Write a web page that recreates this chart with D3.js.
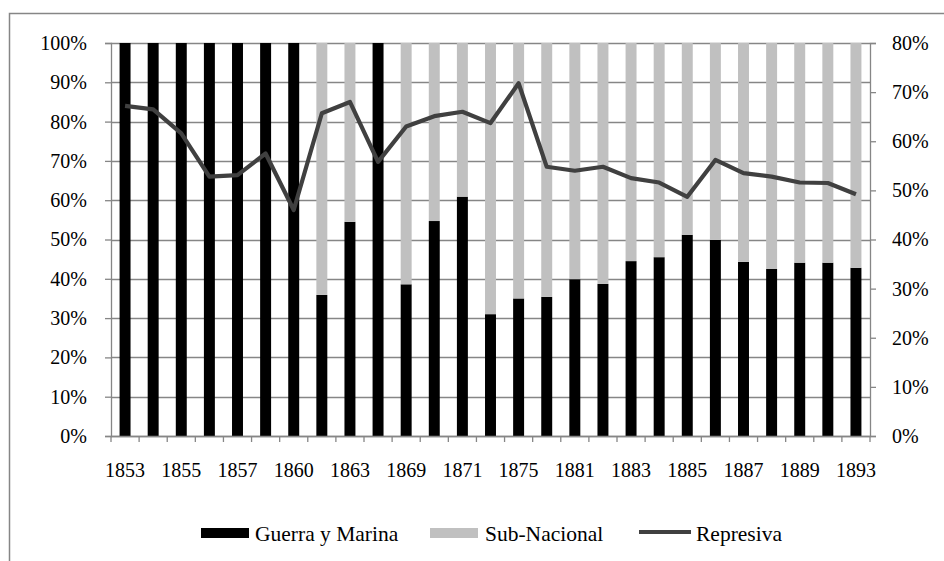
<!DOCTYPE html>
<html lang="es">
<head>
  <meta charset="UTF-8" />
  <title>Guerra y Marina / Sub-Nacional / Represiva</title>
  <script src="https://d3js.org/d3.v7.min.js"></script>
  <style>
    body {
      margin: 0;
      background: #fff;
    }
    svg {
      display: block;
      font-family: "Liberation Serif", "Times New Roman", serif;
    }
    .tick text {
      font-size: 20px;
      fill: #000;
    }
    .legend text {
      font-size: 21.5px;
      fill: #000;
    }
  </style>
</head>
<body>
  <svg></svg>

  <script>
    const years = [1853, 1854, 1855, 1856, 1857, 1858, 1860, 1861, 1863, 1864, 1869, 1870, 1871, 1872,
                   1875, 1876, 1881, 1882, 1883, 1884, 1885, 1886, 1887, 1888, 1889, 1890, 1893];
    const guerra = [100, 100, 100, 100, 100, 100, 100, 35.9, 54.5, 100, 38.6, 54.7, 60.9, 31.0,
                    35.0, 35.4, 39.9, 38.7, 44.5, 45.5, 51.2, 49.9, 44.3, 42.5, 44.1, 44.1, 42.8];
    const subNacional = [0, 0, 0, 0, 0, 0, 0, 64.1, 45.5, 0, 61.4, 45.3, 39.1, 69.0,
                         65.0, 64.6, 60.1, 61.3, 55.5, 54.5, 48.8, 50.1, 55.7, 57.5, 55.9, 55.9, 57.2];
    const represiva = [67.2, 66.5, 61.6, 52.8, 53.1, 57.5, 46.0, 65.7, 68.0, 55.8, 63.0, 65.1, 66.0, 63.7,
                       71.8, 54.8, 54.0, 54.8, 52.5, 51.6, 48.7, 56.2, 53.5, 52.8, 51.6, 51.5, 49.2];
    const leftTicks = [0, 10, 20, 30, 40, 50, 60, 70, 80, 90, 100];
    const rightTicks = [0, 10, 20, 30, 40, 50, 60, 70, 80];
    const seriesNames = ["Guerra y Marina", "Sub-Nacional", "Represiva"];

    const width = 944;
    const height = 561;
    const margin = { top: 43, right: 74, bottom: 125, left: 111 };
    const axisColor = "#868686";

    const svg = d3.select("svg")
      .attr("width", width)
      .attr("height", height);

    // outer chart frame (cropped on the right and bottom)
    svg.append("rect")
      .attr("x", 9.5).attr("y", 13.5)
      .attr("width", 1000).attr("height", 600)
      .attr("fill", "none")
      .attr("stroke", axisColor)
      .attr("stroke-width", 1.5);

    const x = d3.scaleBand()
      .domain(years)
      .range([margin.left, width - margin.right])
      .paddingInner(0.61)
      .paddingOuter(0.305);

    const y = d3.scaleLinear()
      .domain([0, 100])
      .range([height - margin.bottom, margin.top]);

    const y2 = d3.scaleLinear()
      .domain([0, 80])
      .range([height - margin.bottom, margin.top]);

    const table = years.map((yr, i) => ({ year: yr, guerra: guerra[i], sub: subNacional[i] }));
    const stacked = d3.stack().keys(["guerra", "sub"])(table);
    const color = d3.scaleOrdinal().domain(["guerra", "sub"]).range(["#000000", "#c0c0c0"]);

    // gridlines
    svg.append("g")
      .selectAll("line")
      .data(leftTicks)
      .join("line")
      .attr("x1", margin.left)
      .attr("x2", width - margin.right)
      .attr("y1", d => Math.round(y(d)) + 0.5)
      .attr("y2", d => Math.round(y(d)) + 0.5)
      .attr("stroke", axisColor)
      .attr("stroke-width", 1.3);

    // bars
    svg.append("g")
      .selectAll("g")
      .data(stacked)
      .join("g")
      .attr("fill", d => color(d.key))
      .selectAll("rect")
      .data(d => d)
      .join("rect")
      .attr("x", d => x(d.data.year))
      .attr("width", x.bandwidth())
      .attr("y", d => y(d[1]))
      .attr("height", d => y(d[0]) - y(d[1]));

    // left axis
    const yAxis = svg.append("g")
      .attr("transform", `translate(${margin.left},0)`)
      .call(d3.axisLeft(y).tickValues(leftTicks).tickSize(6).tickPadding(18)
        .tickFormat(d => d + "%"));

    // right axis
    const y2Axis = svg.append("g")
      .attr("transform", `translate(${width - margin.right},0)`)
      .call(d3.axisRight(y2).tickValues(rightTicks).tickSize(6).tickPadding(16)
        .tickFormat(d => d + "%"));

    // bottom axis: labels on every other year
    const xAxis = svg.append("g")
      .attr("transform", `translate(0,${height - margin.bottom})`)
      .call(d3.axisBottom(x).tickSize(0).tickPadding(27)
        .tickFormat((d, i) => i % 2 === 0 ? d : ""));

    [yAxis, y2Axis, xAxis].forEach(g => {
      g.attr("font-family", null);
      g.selectAll(".domain").attr("stroke", axisColor).attr("stroke-width", 1.3);
      g.selectAll(".tick line").attr("stroke", axisColor).attr("stroke-width", 1.3);
    });

    // category boundary ticks
    const gap = (x.step() - x.bandwidth()) / 2;
    const bounds = years.map(d => x(d) - gap).concat([x(years[years.length - 1]) + x.bandwidth() + gap]);
    svg.append("g")
      .selectAll("line")
      .data(bounds)
      .join("line")
      .attr("x1", d => d).attr("x2", d => d)
      .attr("y1", height - margin.bottom)
      .attr("y2", height - margin.bottom + 6)
      .attr("stroke", axisColor)
      .attr("stroke-width", 1.3);

    // Represiva line
    const line = d3.line()
      .x((d, i) => x(years[i]) + x.bandwidth() / 2)
      .y(d => y2(d));

    svg.append("path")
      .datum(represiva)
      .attr("d", line)
      .attr("fill", "none")
      .attr("stroke", "#404040")
      .attr("stroke-width", 4.2)
      .attr("stroke-linejoin", "round");

    // legend
    const legend = svg.append("g").attr("class", "legend");
    const legendY = 533;

    legend.append("rect")
      .attr("x", 201).attr("y", legendY - 5)
      .attr("width", 48).attr("height", 10)
      .attr("fill", color("guerra"));
    legend.append("text")
      .attr("x", 255).attr("y", legendY)
      .attr("dy", "0.35em")
      .text(seriesNames[0]);

    legend.append("rect")
      .attr("x", 430).attr("y", legendY - 5)
      .attr("width", 48).attr("height", 10)
      .attr("fill", color("sub"));
    legend.append("text")
      .attr("x", 485).attr("y", legendY)
      .attr("dy", "0.35em")
      .text(seriesNames[1]);

    legend.append("line")
      .attr("x1", 639).attr("x2", 691)
      .attr("y1", legendY - 1).attr("y2", legendY - 1)
      .attr("stroke", "#404040")
      .attr("stroke-width", 4);
    legend.append("text")
      .attr("x", 696).attr("y", legendY)
      .attr("dy", "0.35em")
      .text(seriesNames[2]);
  </script>
</body>
</html>
